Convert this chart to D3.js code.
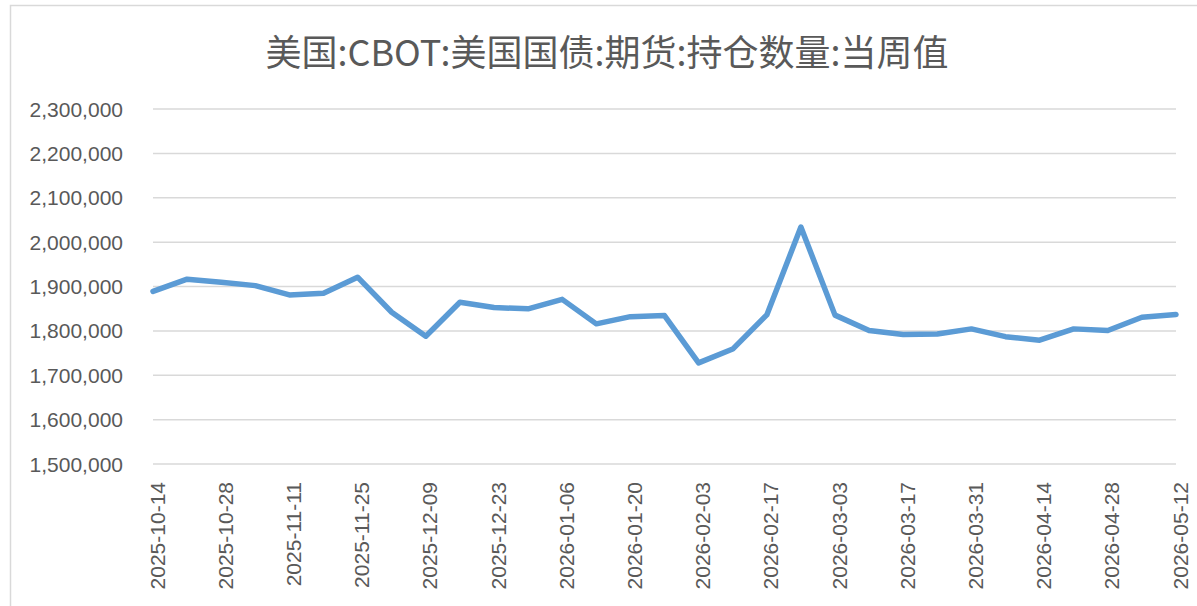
<!DOCTYPE html>
<html>
<head>
<meta charset="utf-8">
<script src="https://cdn.jsdelivr.net/npm/d3@7"></script>
<style>
  body { margin: 0; background: #fff; }
  text { font-family: "Liberation Sans", Arial, sans-serif; fill: #595959; }
</style>
</head>
<body>
<div class="chart"></div>
<script>
// weekly dates (categories)
const dates = [
  "2025-10-14","2025-10-21","2025-10-28","2025-11-04","2025-11-11","2025-11-18","2025-11-25",
  "2025-12-02","2025-12-09","2025-12-16","2025-12-23","2025-12-30","2026-01-06","2026-01-13",
  "2026-01-20","2026-01-27","2026-02-03","2026-02-10","2026-02-17","2026-02-24","2026-03-03",
  "2026-03-10","2026-03-17","2026-03-24","2026-03-31","2026-04-07","2026-04-14","2026-04-21",
  "2026-04-28","2026-05-05","2026-05-12"
];
// open interest, contracts
const openInterest = [
  1889000, 1916500, 1909700, 1902000, 1881000, 1885000, 1921000,
  1842000, 1788000, 1864500, 1852500, 1849600, 1871000, 1815800,
  1832000, 1834500, 1728000, 1759000, 1836000, 2034000, 1835500,
  1800700, 1791700, 1793000, 1804500, 1787000, 1779000, 1804500,
  1800700, 1830800, 1836800
];
const yTicks = [1500000, 1600000, 1700000, 1800000, 1900000, 2000000, 2100000, 2200000, 2300000];
const title = "美国:CBOT:美国国债:期货:持仓数量:当周值";

let width = 1197;
let height = 606;

let svg = d3.select(".chart")
  .append("svg")
  .attr("width", width)
  .attr("height", height);

// outer chart frame
svg.append("rect")
  .attr("x", 10.5)
  .attr("y", 5.5)
  .attr("width", width)
  .attr("height", height)
  .attr("fill", "none")
  .attr("stroke", "#d9d9d9")
  .attr("stroke-width", 1.5);

let x = d3.scalePoint().domain(dates).range([153, 1176]);
let y = d3.scaleLinear().domain([1500000, 2300000]).range([464, 109]);

svg.append("text")
  .attr("x", 607)
  .attr("y", 66)
  .attr("text-anchor", "middle")
  .attr("font-size", 36)
  .style("font-family", "'Noto Sans CJK SC', sans-serif")
  .text(title);

// grid
svg.append("g")
  .selectAll("line")
  .data(yTicks)
  .enter().append("line")
  .attr("x1", 153)
  .attr("x2", 1176)
  .attr("y1", d => y(d))
  .attr("y2", d => y(d))
  .attr("stroke", "#d9d9d9")
  .attr("stroke-width", 1.5);

// y labels
let fmt = d3.format(",d");
svg.append("g")
  .selectAll("text")
  .data(yTicks)
  .enter().append("text")
  .attr("x", 123)
  .attr("y", d => y(d))
  .attr("dy", "0.36em")
  .attr("text-anchor", "end")
  .attr("font-size", 21)
  .text(d => fmt(d));

// x labels, every second week
svg.append("g")
  .selectAll("text")
  .data(dates.filter((d, i) => i % 2 == 0))
  .enter().append("text")
  .attr("transform", d => "translate(" + (x(d) + 4) + ",482) rotate(-90)")
  .attr("dy", "0.36em")
  .attr("text-anchor", "end")
  .attr("font-size", 21)
  .text(d => d);

let line = d3.line()
  .x((d, i) => x(dates[i]))
  .y(d => y(d));

svg.append("path")
  .datum(openInterest)
  .attr("d", line)
  .attr("fill", "none")
  .attr("stroke", "#5b9bd5")
  .attr("stroke-width", 5.5)
  .attr("stroke-linejoin", "round")
  .attr("stroke-linecap", "round");
</script>
</body>
</html>
